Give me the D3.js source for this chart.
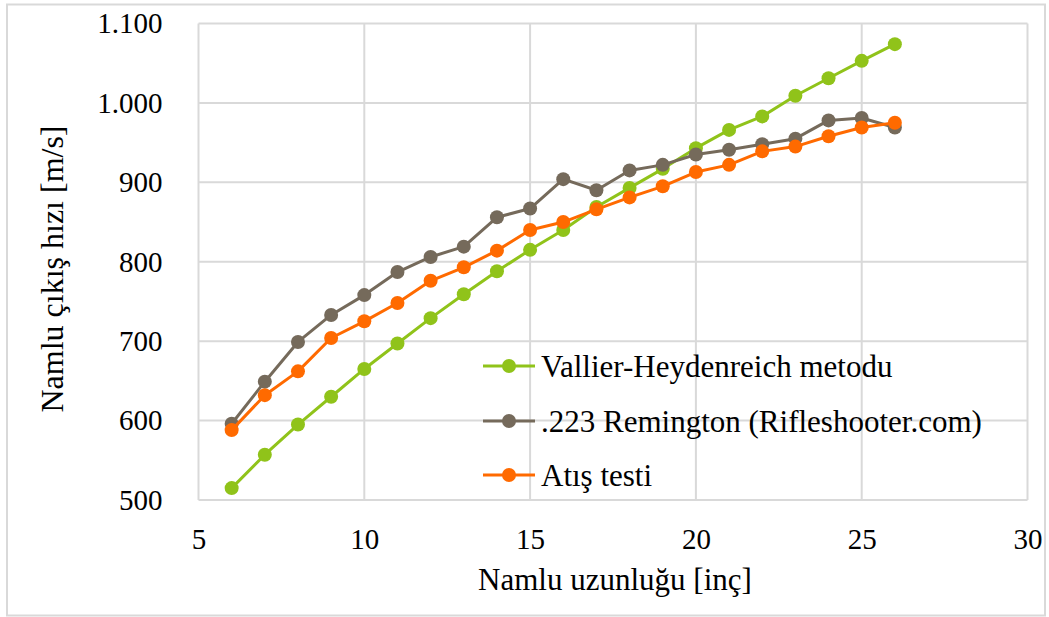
<!DOCTYPE html>
<html>
<head>
<meta charset="utf-8">
<script src="https://cdn.jsdelivr.net/npm/d3@7/dist/d3.min.js"></script>
<style>
  html, body { margin: 0; padding: 0; background: #fff; }
  svg { display: block; }
  svg text { font-family: "Liberation Serif", "Times New Roman", Times, serif; fill: #000; }
</style>
</head>
<body>
<svg id="chart" width="1049" height="617"></svg>
<script>
const xValues = [6, 7, 8, 9, 10, 11, 12, 13, 14, 15, 16, 17, 18, 19, 20, 21, 22, 23, 24, 25, 26];
const vallier = [515, 557, 595, 630, 665, 697, 729, 759, 788, 815, 840, 869, 893, 917, 943, 966, 983, 1009, 1031, 1053, 1074];
const remington = [596, 649, 699, 733, 758, 787, 806, 819, 856, 867, 904, 890, 915, 922, 935, 941, 948, 955, 978, 981, 969];
const atis = [588, 632, 662, 704, 725, 748, 776, 793, 814, 840, 850, 866, 881, 895, 913, 922, 939, 945, 958, 969, 975];
const seriesNames = ["Vallier-Heydenreich metodu", ".223 Remington (Rifleshooter.com)", "Atış testi"];
const seriesColors = ["#90c31a", "#756a5b", "#ff6a00"];
const xTicks = [5, 10, 15, 20, 25, 30];
const yTicks = [500, 600, 700, 800, 900, 1000, 1100];
const xTitle = "Namlu uzunluğu [inç]";
const yTitle = "Namlu çıkış hızı [m/s]";

const svg = d3.select("#chart");
const W = 1049, H = 617;
const plot = { left: 198.5, right: 1027.5, top: 23.5, bottom: 500 };

// outer border
svg.append("rect").attr("x", 7).attr("y", 4.5).attr("width", W - 11).attr("height", H - 6)
  .attr("fill", "#fff").attr("stroke", "#d9d9d9").attr("stroke-width", 2);

const x = d3.scaleLinear().domain([5, 30]).range([plot.left, plot.right]);
const y = d3.scaleLinear().domain([500, 1100]).range([plot.bottom, plot.top]);

const fmt = v => v >= 1000 ? d3.format(",")(v).replace(/,/g, ".") : String(v);

// gridlines
const grid = svg.append("g");
grid.selectAll("line.v").data(xTicks).join("line")
  .attr("x1", d => x(d)).attr("x2", d => x(d))
  .attr("y1", plot.top).attr("y2", plot.bottom)
  .attr("stroke", "#d9d9d9").attr("stroke-width", 2);
grid.selectAll("line.h").data(yTicks).join("line")
  .attr("x1", plot.left).attr("x2", plot.right)
  .attr("y1", d => y(d)).attr("y2", d => y(d))
  .attr("stroke", "#d9d9d9").attr("stroke-width", 2);

// axes via d3 axis
const xAxis = d3.axisBottom(x).tickValues(xTicks).tickSize(0).tickPadding(28).tickFormat(d => String(d));
const gx = svg.append("g").attr("transform", `translate(0,${plot.bottom})`).call(xAxis)
  .attr("font-family", null).attr("font-size", null);
gx.select(".domain").remove();
gx.selectAll("text").attr("font-size", 29).attr("fill", "#000");

const yAxis = d3.axisLeft(y).tickValues(yTicks).tickSize(0).tickPadding(36).tickFormat(fmt);
const gy = svg.append("g").attr("transform", `translate(${plot.left},0)`).call(yAxis)
  .attr("font-family", null).attr("font-size", null);
gy.select(".domain").remove();
gy.selectAll("text").attr("font-size", 29).attr("fill", "#000");

// series
const allSeries = [vallier, remington, atis];
const line = d3.line().x((d, i) => x(xValues[i])).y(d => y(d));
allSeries.forEach((vals, si) => {
  const g = svg.append("g");
  g.append("path").datum(vals).attr("d", line)
    .attr("fill", "none").attr("stroke", seriesColors[si]).attr("stroke-width", 3)
    .attr("stroke-linejoin", "round");
  g.selectAll("circle").data(vals).join("circle")
    .attr("cx", (d, i) => x(xValues[i])).attr("cy", d => y(d)).attr("r", 7)
    .attr("fill", seriesColors[si]);
});

// axis titles
svg.append("text").attr("x", 615).attr("y", 590).attr("text-anchor", "middle")
  .attr("font-size", 31).text(xTitle);
svg.append("text").attr("transform", "translate(63,269) rotate(-90)").attr("text-anchor", "middle")
  .attr("font-size", 32).text(yTitle);

// legend
const legendRows = [366, 421, 475];
const lg = svg.append("g");
seriesNames.forEach((name, i) => {
  const yy = legendRows[i];
  lg.append("line").attr("x1", 483).attr("x2", 535).attr("y1", yy).attr("y2", yy)
    .attr("stroke", seriesColors[i]).attr("stroke-width", 3);
  lg.append("circle").attr("cx", 509).attr("cy", yy).attr("r", 7).attr("fill", seriesColors[i]);
  lg.append("text").attr("x", 541).attr("y", yy).attr("dy", "0.35em")
    .attr("font-size", 31).text(name);
});
</script>
</body>
</html>
